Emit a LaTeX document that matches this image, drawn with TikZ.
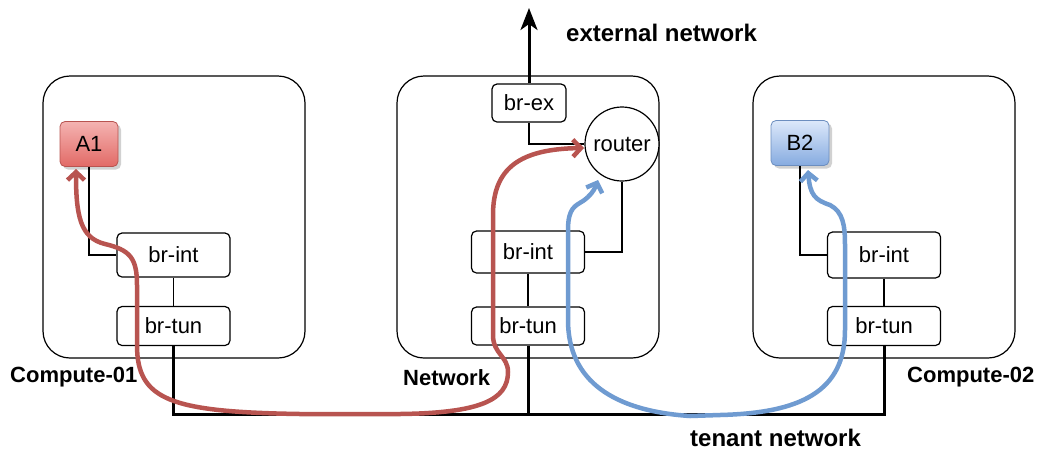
\documentclass[tikz,border=0pt]{standalone}
\usepackage{fontspec}
\setmainfont{Liberation Sans}
\usetikzlibrary{arrows.meta,shadows,calc}
\definecolor{redline}{HTML}{B85450}
\definecolor{blueline}{HTML}{6F9BD1}
\definecolor{redtop}{HTML}{F4B3B1}
\definecolor{redbot}{HTML}{E26A66}
\definecolor{bluetop}{HTML}{DCE8FA}
\definecolor{bluebot}{HTML}{86ABE0}
\definecolor{blueedge}{HTML}{6C8EBF}
\tikzset{
  txt/.style={font=\fontsize{22}{26}\selectfont},
  lbl/.style={font=\fontsize{22}{26}\selectfont\bfseries, anchor=west, inner sep=0pt},
  netlbl/.style={font=\fontsize{24}{28}\selectfont\bfseries, anchor=west, inner sep=0pt},
  host/.style={draw, line width=1.2pt, rounded corners=27pt, minimum width=262pt, minimum height=282pt, inner sep=0pt},
  bridge/.style={txt, draw, line width=1.2pt, rounded corners=5pt, minimum width=113pt, inner sep=0pt, fill=white},
  vmred/.style={txt, draw=redline, line width=0.8pt, rounded corners=5pt, minimum width=58pt, minimum height=45pt, inner sep=0pt,
     top color=redtop, bottom color=redbot, drop shadow={shadow xshift=3pt, shadow yshift=-3pt, fill=black!30, opacity=0.6}},
  vmblue/.style={txt, draw=blueedge, line width=0.8pt, rounded corners=5pt, minimum width=58pt, minimum height=45pt, inner sep=0pt,
     top color=bluetop, bottom color=bluebot, drop shadow={shadow xshift=3pt, shadow yshift=-3pt, fill=black!30, opacity=0.6}},
  link/.style={line width=1.3pt},
  trunk/.style={line width=3pt},
  flow/.style={line width=4.5pt, {Straight Barb[length=8pt,width=17pt]}-{Straight Barb[length=8pt,width=17pt]}},
}
\begin{document}
\begin{tikzpicture}[x=1pt,y=-1pt]
\useasboundingbox (0,0) rectangle (1042,451);
% hosts
\node[host] (h1) at (174,217) {};
\node[host] (h2) at (528,217) {};
\node[host] (h3) at (884,217) {};
% compute-01
\node[vmred] (a1) at (89,144) {A1};
\node[bridge, minimum height=44pt] (int1) at (173.5,255) {br-int};
\node[bridge, minimum height=39pt] (tun1) at (173.5,326) {br-tun};
% network
\node[bridge, minimum width=74pt, minimum height=38pt] (ex) at (529,103) {br-ex};
\node[txt, draw, circle, line width=1.2pt, minimum size=74pt, inner sep=0pt, fill=white] (router) at (622,144) {router};
\node[bridge, minimum height=42pt] (int2) at (528,252) {br-int};
\node[bridge, minimum height=38pt] (tun2) at (528,326) {br-tun};
% compute-02
\node[vmblue] (b2) at (800,143) {B2};
\node[bridge, minimum height=46pt] (int3) at (884,255) {br-int};
\node[bridge, minimum height=39pt] (tun3) at (884,326) {br-tun};
% labels
\node[lbl] (l1) at (10,377) {Compute-01};
\node[lbl] (l2) at (403,378) {Network};
\node[lbl] (l3) at (907,377) {Compute-02};
\node[netlbl] (lext) at (566,33) {external network};
\node[netlbl] (lten) at (690,438) {tenant network};
% bus coordinates
\coordinate (busL) at (tun1.south |- 0,414);
\coordinate (busM) at (tun2.south |- 0,414);
\coordinate (busR) at (tun3.south |- 0,414);
\coordinate (extEnd) at (529,8);
% thin links
\draw[link] (a1.south) |- (int1.west);
\draw[link] (int1) -- (tun1);
\draw[link] (ex.south) |- (router.west);
\draw[link] (router.south) |- (int2.east);
\draw[link] (int2) -- (tun2);
\draw[link] (b2.south) |- (int3.west);
\draw[link] (int3) -- (tun3);
% trunks
\draw[trunk] (tun1.south) -- (busL) -- (busR) -- (tun3.south);
\draw[trunk] (tun2.south) -- (busM);
\draw[trunk, -{Stealth[length=22pt,width=17pt,inset=6pt]}] (ex.north) -- (extEnd);
% red flow
\draw[flow, redline] (76,169) .. controls (76,215) and (80,238) .. (105,244)
  .. controls (130,250) and (137,258) .. (137,285) -- (137,345)
  .. controls (137,400) and (170,412) .. (300,414) -- (400,414)
  .. controls (480,413) and (508,400) .. (508,372)
  .. controls (508,356) and (493,354) .. (493,335) -- (493,215)
  .. controls (493,168) and (520,149) .. (584,148);
% blue flow
\draw[flow, blueline] (808,170) .. controls (810,195) and (815,200) .. (830,205)
  .. controls (843,212) and (845,225) .. (845,245) -- (845,330)
  .. controls (845,392) and (800,413) .. (720,415) -- (690,416)
  .. controls (615,411) and (568,382) .. (568,320) -- (568,230)
  .. controls (568,208) and (575,206) .. (583,201)
  .. controls (590,196) and (594,191) .. (598,180);
\end{tikzpicture}
\end{document}
